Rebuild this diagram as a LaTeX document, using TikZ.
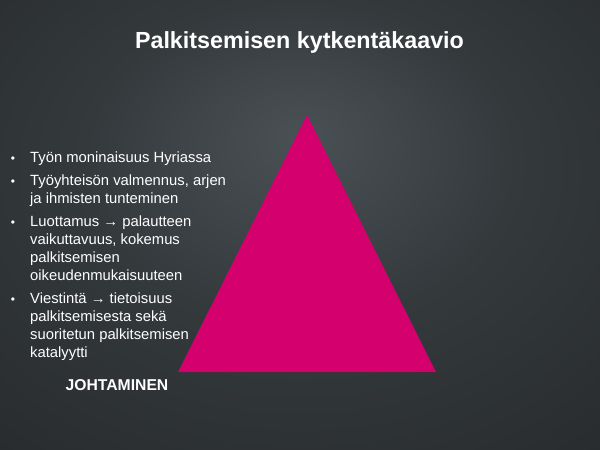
\documentclass[tikz,border=0pt]{standalone}
\usepackage{fontspec}
\setmainfont{Liberation Sans}
\definecolor{bgin}{RGB}{74,81,85}
\definecolor{bgmid}{RGB}{52,57,60}
\definecolor{bgout}{RGB}{28,30,32}
\definecolor{tripink}{RGB}{212,0,110}
\pgfdeclareradialshading{bgshade}{\pgfpoint{0bp}{10bp}}{color(0bp)=(bgin); color(18bp)=(bgmid); color(60bp)=(bgout)}
\newcommand\linestack[1]{\vtop{\baselineskip=18pt\lineskiplimit=-10pt\halign{##\hfil\cr#1\crcr}}}
\tikzset{
  bultext/.style={anchor=base west, inner sep=0pt, text=white, font=\fontsize{14.8}{18}\selectfont},
  buldot/.style={anchor=base, inner sep=0pt, text=white, font=\fontsize{12}{14}\selectfont},
  titletext/.style={anchor=base, inner sep=0pt, text=white, font=\fontsize{23.3}{28}\selectfont\bfseries},
  labeltext/.style={anchor=base, inner sep=0pt, text=white, font=\fontsize{15.7}{19}\selectfont\bfseries},
  tri/.style={fill=tripink}
}
\begin{document}
\begin{tikzpicture}[x=1pt,y=-1pt]
\useasboundingbox (0,0) rectangle (600,450);
\shade[shading=bgshade] (0,0) rectangle (600,450);
\node[titletext] (title) at (299.5,48) {Palkitsemisen kytkentäkaavio};
\coordinate (apex) at (307,115);
\coordinate (bl) at (178,372);
\coordinate (br) at (436,372);
\fill[tri] (apex) -- (bl) -- (br) -- cycle;
\node[buldot] (d1) at (13,162) {•};
\node[bultext] (b1) at (30,162) {Työn moninaisuus Hyriassa};
\node[buldot] (d2) at (13,185) {•};
\node[bultext] (b2) at (30,185) {\linestack{Työyhteisön valmennus, arjen\cr ja ihmisten tunteminen}};
\node[buldot] (d3) at (13,226) {•};
\node[bultext] (b3) at (30,226) {\linestack{Luottamus → palautteen\cr vaikuttavuus, kokemus\cr palkitsemisen\cr oikeudenmukaisuuteen}};
\node[buldot] (d4) at (13,303) {•};
\node[bultext] (b4) at (30,303) {\linestack{Viestintä → tietoisuus\cr palkitsemisesta sekä\cr suoritetun palkitsemisen\cr katalyytti}};
\node[labeltext] (lead) at (117,390) {JOHTAMINEN};
\end{tikzpicture}
\end{document}
